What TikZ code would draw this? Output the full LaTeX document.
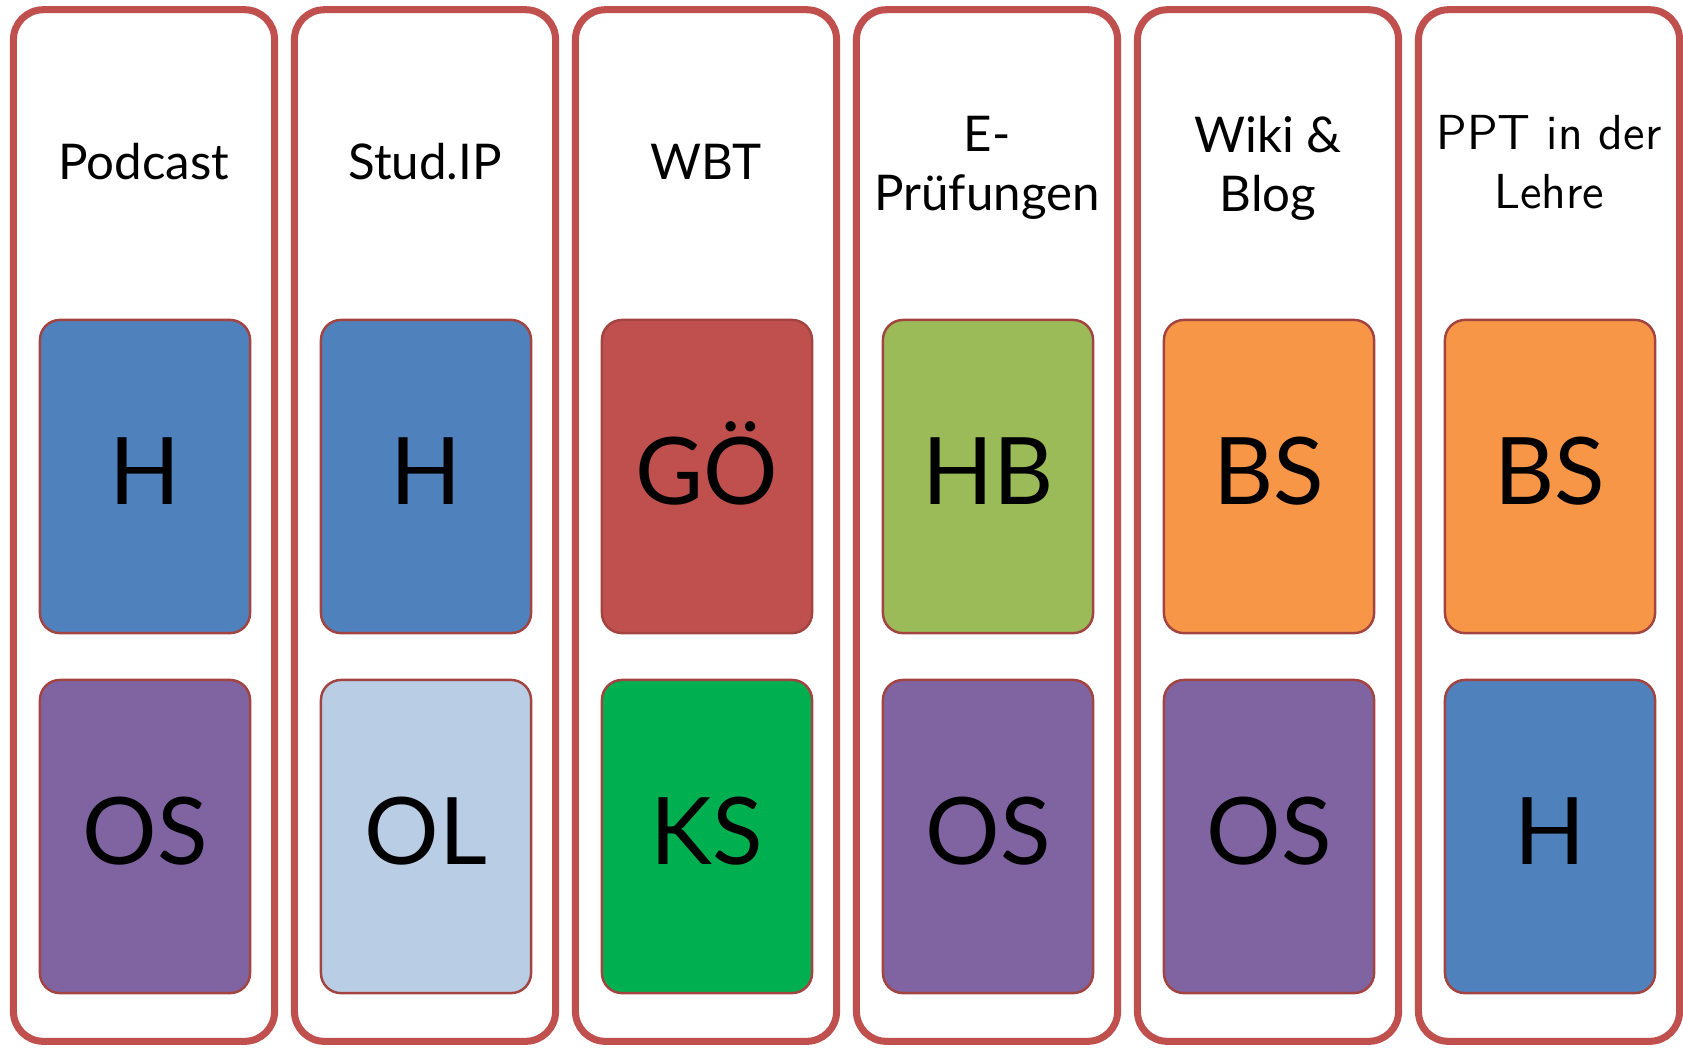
\documentclass[tikz,border=0pt]{standalone}
\usepackage{fontspec}
\setmainfont{Lato}
\definecolor{cred}{HTML}{C0504D}
\definecolor{cblue}{HTML}{4F81BD}
\definecolor{cpurple}{HTML}{8064A2}
\definecolor{clight}{HTML}{B9CDE5}
\definecolor{cgreen}{HTML}{00B050}
\definecolor{colive}{HTML}{9BBB59}
\definecolor{corange}{HTML}{F79646}
\tikzset{
  column/.style={draw=cred,line width=2pt,rounded corners=8.5pt,minimum width=2.61cm,minimum height=10.31cm},
  tile/.style={draw=cred!85!black,line width=0.7pt,rounded corners=5.7pt,minimum width=2.1cm,minimum height=3.13cm,
    text height=0.7cm,text depth=0.15cm,font=\fontsize{26.5}{30}\selectfont},
  header/.style={align=center,inner sep=0pt}
}
\begin{document}
\begin{tikzpicture}[x=0.01cm,y=-0.01cm]
\useasboundingbox (0,0) rectangle (1683,1047);
\foreach \i/\head/\hy/\hf/\up/\upcol/\down/\downcol in {%
  0/{Podcast}/162/\rmfamily/H/cblue/OS/cpurple,
  1/{Stud.IP}/162/\rmfamily/H/cblue/OL/clight,
  2/{WBT}/162/\rmfamily/GÖ/cred/KS/cgreen,
  3/{E-\\Prüfungen}/168/\rmfamily/HB/colive/OS/cpurple,
  4/{Wiki \&\\Blog}/168/\rmfamily/BS/corange/OS/cpurple,
  5/{PPT in der\\Lehre}/162/\sffamily/BS/corange/H/cblue}{
  \node[column] (col\i) at (144+281*\i,525.5) {};
  \node[header,font={\hf\fontsize{14}{16.8}\selectfont}] (head\i) at (144+281*\i,\hy) {\head};
  \node[tile,fill=\upcol] (up\i) at (145+281*\i,476.5) {\up};
  \node[tile,fill=\downcol] (down\i) at (145+281*\i,836.5) {\down};
}
\end{tikzpicture}
\end{document}
